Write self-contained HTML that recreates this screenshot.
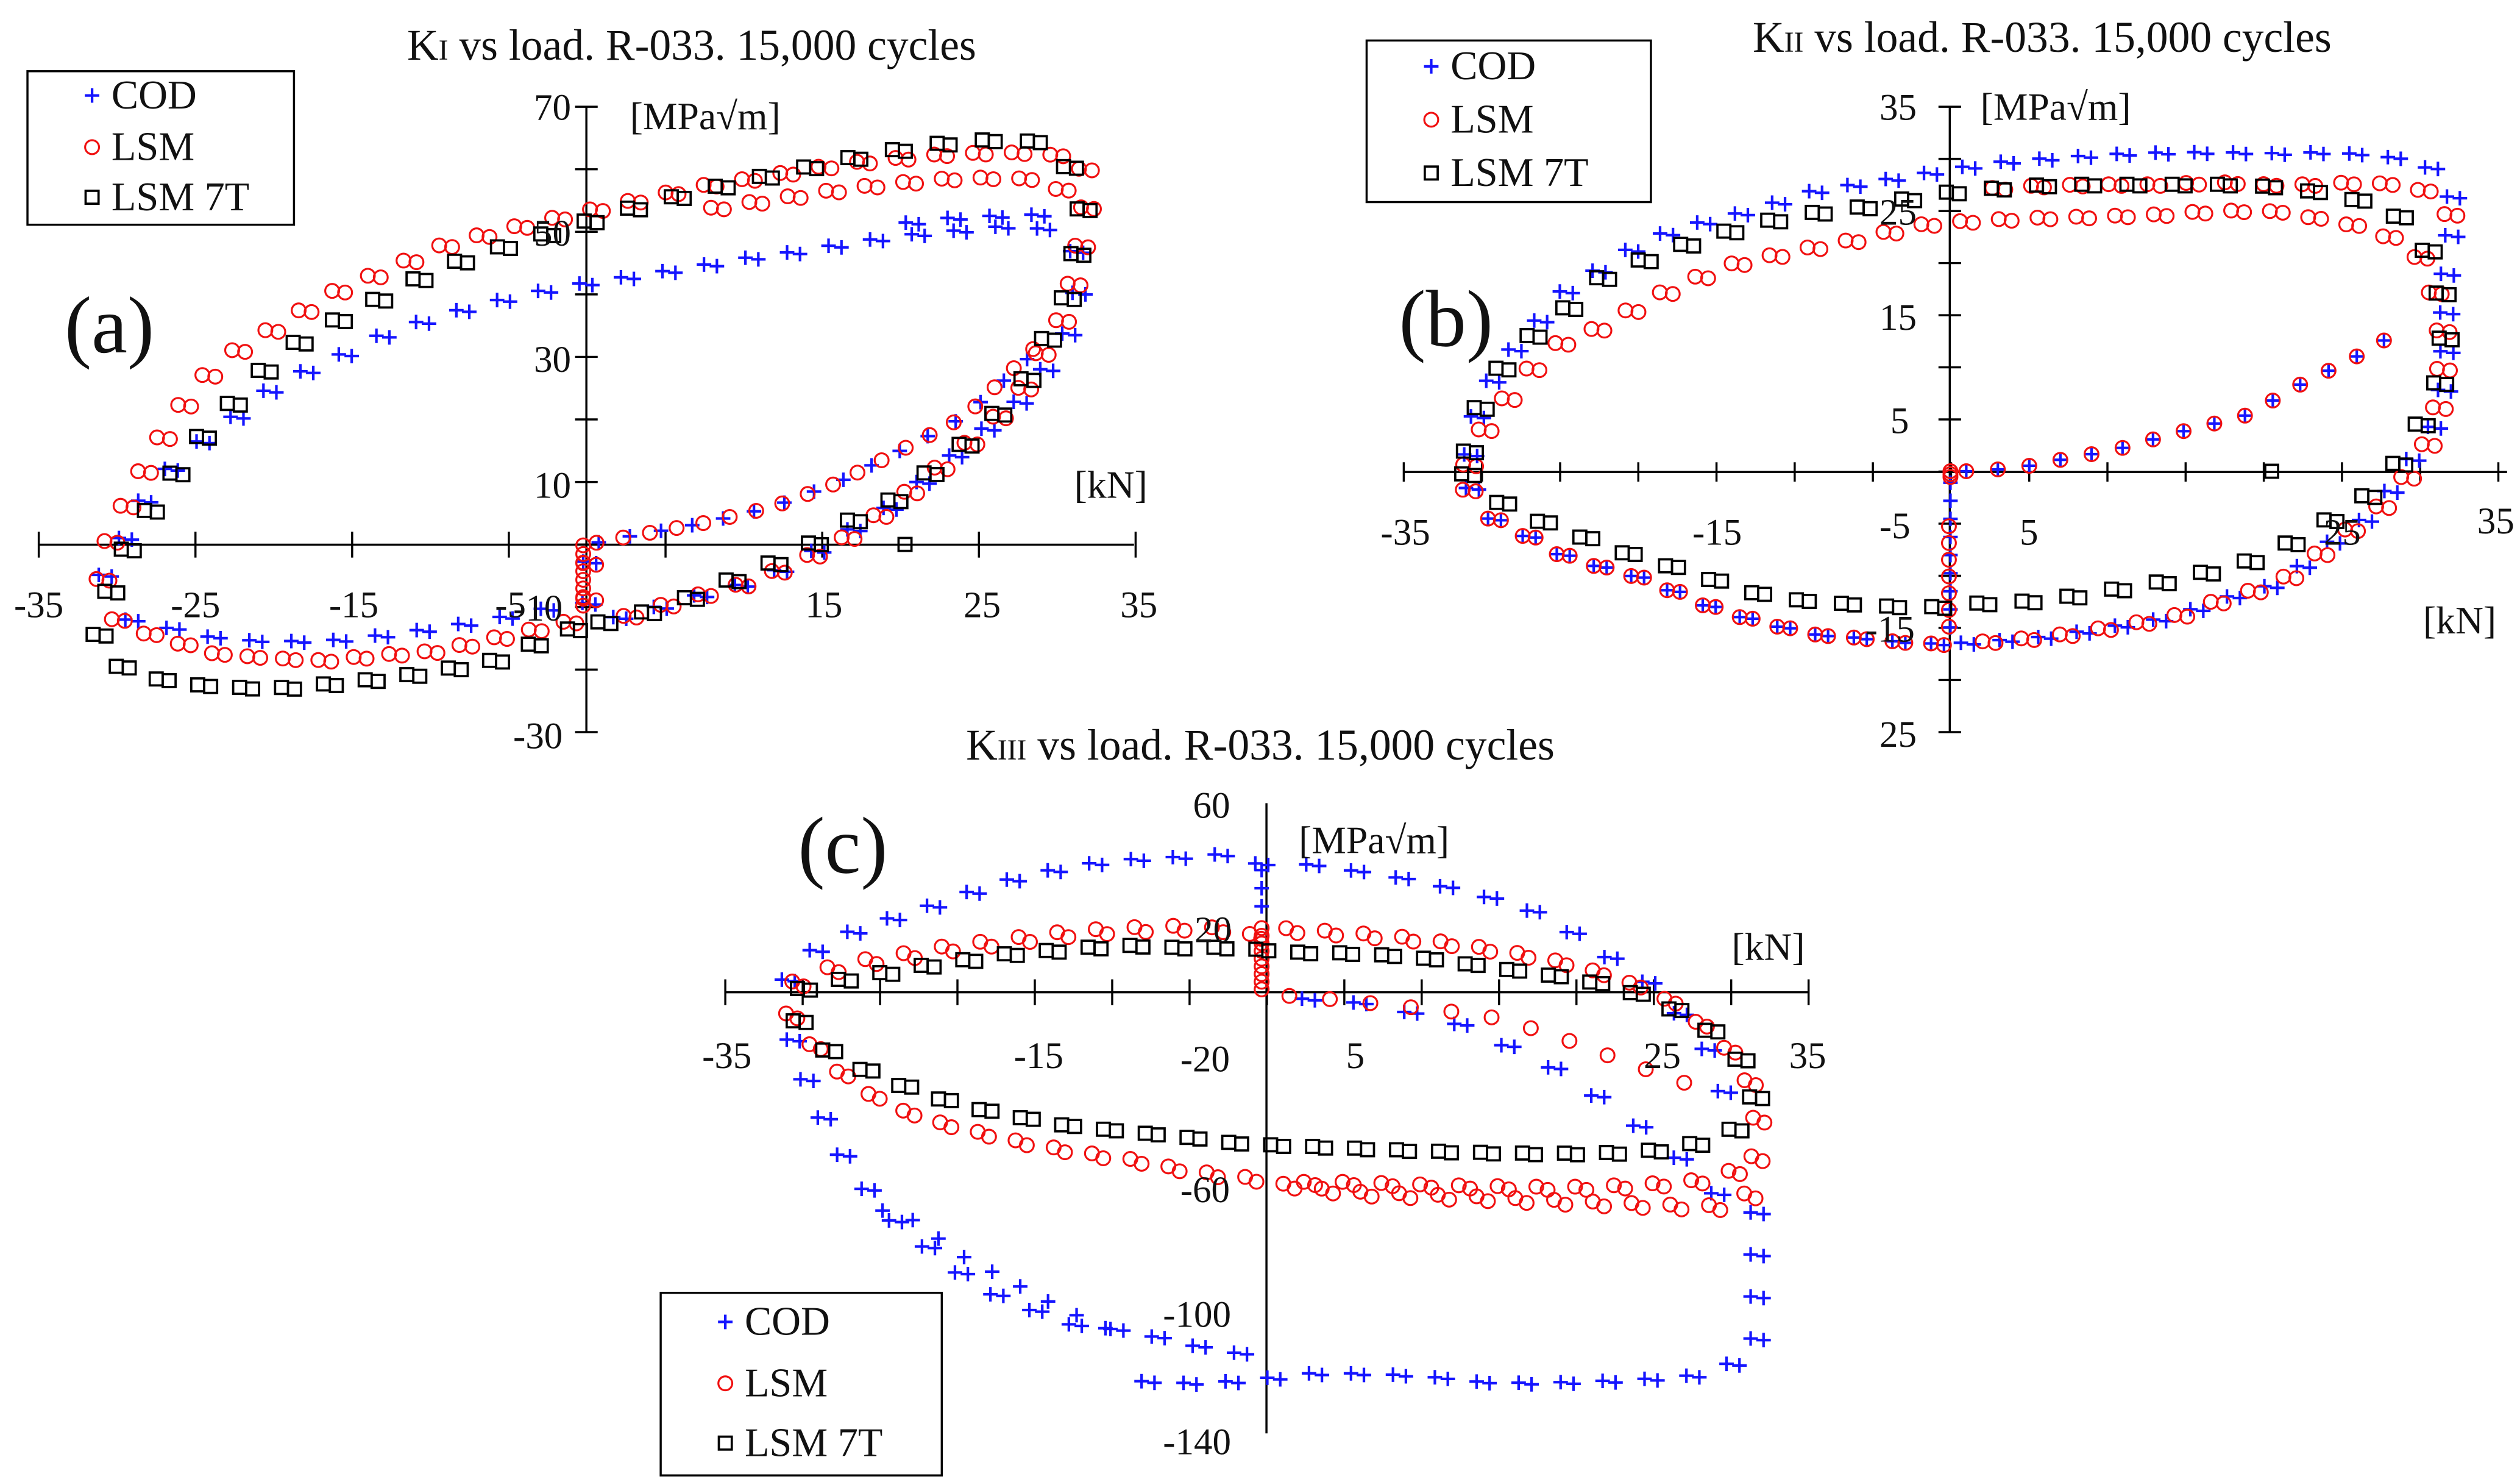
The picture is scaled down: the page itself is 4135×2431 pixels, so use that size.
<!DOCTYPE html>
<html><head><meta charset="utf-8"><style>
html,body{margin:0;padding:0;background:#fff;}
svg{display:block;}
text{font-family:"Liberation Serif",serif;fill:#111;}
</style></head><body>
<svg id="s" width="4135" height="2431" viewBox="0 0 1560 917" xmlns="http://www.w3.org/2000/svg">
<rect width="1560" height="917" fill="#fff"/>
<g stroke="#000" stroke-width="1.3" fill="none" id="axes"></g>
<g id="pts"></g>
<text x="252" y="37" font-size="27">K<tspan font-size="18">I</tspan> vs load. R-033. 15,000 cycles</text>
<text x="1085" y="32" font-size="27">K<tspan font-size="18">II</tspan>  vs load.  R-033. 15,000 cycles</text>
<text x="598" y="470" font-size="27">K<tspan font-size="18">III</tspan>  vs load.  R-033. 15,000 cycles</text>
<text x="40" y="218" font-size="50">(a)</text>
<text x="866" y="214" font-size="50">(b)</text>
<text x="494" y="540" font-size="50">(c)</text>
<text x="390" y="80" font-size="24">[MPa√m]</text>
<text x="665" y="308" font-size="24">[kN]</text>
<text x="1226" y="74" font-size="24">[MPa√m]</text>
<text x="1500" y="392" font-size="24">[kN]</text>
<text x="804" y="528" font-size="24">[MPa√m]</text>
<text x="1072" y="594" font-size="24">[kN]</text>
<g font-size="23" text-anchor="middle">
<text x="342" y="74">70</text><text x="342" y="152">50</text><text x="342" y="230">30</text><text x="342" y="308">10</text><text x="333" y="384">-10</text><text x="333" y="463">-30</text>
<text x="24" y="382">-35</text><text x="121" y="382">-25</text><text x="219" y="382">-15</text><text x="316" y="382">-5</text><text x="510" y="382">15</text><text x="608" y="382">25</text><text x="705" y="382">35</text>
<text x="1175" y="74">35</text><text x="1175" y="139">25</text><text x="1175" y="204">15</text><text x="1176" y="268">5</text><text x="1173" y="333">-5</text><text x="1170" y="397">-15</text><text x="1175" y="462">25</text>
<text x="870" y="337">-35</text><text x="1063" y="337">-15</text><text x="1256" y="337">5</text><text x="1450" y="337">25</text><text x="1545" y="330">35</text>
<text x="750" y="506">60</text><text x="751" y="583">20</text><text x="746" y="663">-20</text><text x="746" y="744">-60</text><text x="741" y="821">-100</text><text x="741" y="900">-140</text>
<text x="450" y="661">-35</text><text x="643" y="661">-15</text><text x="839" y="661">5</text><text x="1029" y="661">25</text><text x="1119" y="661">35</text>
</g>
<g id="leg"></g>
</svg>
<script>
var NS="http://www.w3.org/2000/svg";
var ax=document.getElementById('axes'),P=document.getElementById('pts'),L=document.getElementById('leg');
function el(t,a,p){var e=document.createElementNS(NS,t);for(var k in a)e.setAttribute(k,a[k]);(p||P).appendChild(e);return e;}
function line(x1,y1,x2,y2,p){el('line',{x1:x1,y1:y1,x2:x2,y2:y2},p||ax);}
line(24,337,702,337);line(363,66,363,453);
for(var i=0;i<=7;i++){var x=24+i*97;line(x,329,x,345);}
for(var i=0;i<=10;i++){var y=66+i*38.7;line(356,y,370,y);}
line(869,292,1552,292);line(1207,66,1207,453);
for(var i=0;i<=14;i++){var x=869+i*48.4;line(x,286,x,298);}
for(var i=0;i<=12;i++){var y=66+i*32.25;line(1200,y,1214,y);}
line(449,614,1119,614);line(784,497,784,887);
for(var i=0;i<=14;i++){var x=449+i*47.9;line(x,606,x,622);}
function mk(type,x,y,p){
 p=p||P;
 if(type==0){el('path',{d:'M'+(x-4.5)+' '+y+'h9M'+x+' '+(y-4.5)+'v9',stroke:'#1515ff','stroke-width':1.6,fill:'none'},p);}
 else if(type==1){el('circle',{cx:x,cy:y,r:4.3,stroke:'#f01010','stroke-width':1.2,fill:'none'},p);}
 else {el('rect',{x:x-4,y:y-4,width:8,height:8,stroke:'#000','stroke-width':1.4,fill:'none'},p);}
}
function T(panel,p){
 if(panel=='a')return[p[0]*0.498,p[1]*0.296];
 if(panel=='b')return[830.2+p[0]*0.4657,p[1]*0.296];
 return[396.2+p[0]*0.4693,452.8+p[1]*0.2963];
}
function track(panel,type,arr,step,pair){
 if(pair)step*=2.0;else step*=1.4;
 var pts=[];for(var i=0;i<arr.length;i+=2)pts.push(T(panel,[arr[i],arr[i+1]]));
 var acc=step*0.5;
 for(var i=1;i<pts.length;i++){
  var a=pts[i-1],b=pts[i],dx=b[0]-a[0],dy=b[1]-a[1],d=Math.hypot(dx,dy);
  var t=0;
  while(true){
   if(t+acc>d)break;
   t+=acc;
   var x=a[0]+dx*t/d,y=a[1]+dy*t/d;
   mk(type,x,y);
   if(pair){mk(type,x+pair[0],y+pair[1]);}
   acc=step;
  }
  acc=acc-(d-t);
  if(acc<=0)acc=step;
 }
}
var pr=[8,1];
// ===== Panel A =====
track('a',0,[110,1240,140,1150,180,1020,230,940,280,880,340,800,410,750,470,700,540,660,610,630,690,600,770,580,850,560,920,540,990,525,1060,505,1130,490,1200,480,1260,470,1300,480,1330,520,1335,600,1320,700,1290,780,1260,840,1210,910,1160,980,1100,1060,1040,1120,980,1180,920,1220,850,1250,770,1290,730,1290],13,pr);
track('a',0,[1100,470,1180,455,1270,448,1310,450],13,pr);
track('a',0,[725,1130,725,1260,680,1270,620,1290,550,1310,460,1330,400,1340,330,1340,270,1335,200,1310,140,1290,115,1270],13,pr);
track('a',0,[725,1140,770,1125,870,1095,960,1060,1040,1010,1110,950,1200,870,1290,730],14,null);
track('a',1,[115,1250,130,1130,160,1020,200,900,240,800,290,730,340,680,410,610,480,560,550,510,620,480,700,450,780,420,860,390,940,370,1010,350,1080,335,1180,320,1280,318,1340,330,1345,420,1335,530,1320,650,1290,730,1260,830,1210,910,1160,980,1100,1060,1050,1120,980,1180,920,1220,850,1250,770,1290,730,1290],12,pr);
track('a',1,[860,440,940,420,1020,400,1090,385,1180,372,1260,370,1310,390,1335,440],12,pr);
track('a',1,[725,1140,725,1280,700,1300,620,1330,540,1360,460,1370,400,1380,330,1375,260,1365,200,1335,150,1310,115,1260],11,pr);
track('a',1,[725,1140,770,1125,870,1095,960,1060,1040,1010,1110,950,1200,870,1290,720],12,null);
for(var k=0;k<8;k++)mk(1,T('a',[725,1140+k*18])[0],T('a',[725,1140+k*18])[1]);
track('a',2,[120,1280,155,1130,190,1040,240,920,290,830,340,740,400,680,470,620,540,560,620,515,700,475,780,435,860,400,940,370,1010,345,1080,320,1160,300,1240,290,1280,295,1320,340,1340,420,1335,500,1320,620,1300,690,1270,790,1220,890,1170,960,1110,1040,1050,1090,980,1160,920,1200,850,1250,760,1300,730,1300],14,pr);
track('a',2,[730,1300,680,1330,610,1380,530,1405,460,1420,400,1430,330,1440,280,1435,230,1430,180,1415,140,1390,120,1360,115,1320],13,pr);
mk(2,T('a',[1125,1138])[0],T('a',[1125,1138])[1]);
// ===== Panel B =====
track('b',0,[160,990,170,880,200,770,240,700,290,610,340,560,400,500,460,470,540,440,620,400,700,380,780,360,860,340,940,330,1020,322,1100,318,1170,318,1240,320,1300,318,1360,322,1410,332,1450,355,1470,400,1470,460,1465,530,1460,600,1462,700,1460,800,1450,880,1420,950,1390,1020,1360,1080,1320,1120,1290,1160,1240,1220,1170,1250,1100,1290,1020,1310,940,1330,860,1340,810,1345],12,pr);
track('b',0,[810,1345,760,1345,700,1335,620,1325,540,1295,470,1260,400,1210,340,1185,280,1155,230,1110,190,1080,170,1040,160,990],12,pr);
track('b',0,[810,990,810,1345],8,null);
track('b',0,[810,985,850,985,910,975,960,960,1030,940,1110,905,1200,870,1230,845,1290,790,1320,770,1380,720,1410,680],14,null);
track('b',1,[155,1010,170,930,190,880,210,840,240,780,280,720,330,690,400,630,450,590,520,550,610,520,680,500,760,470,840,460,920,455,1000,452,1080,448,1160,440,1230,440,1290,455,1340,470,1380,490,1420,520,1440,570,1450,640,1460,720,1455,800,1450,870,1440,920,1420,970,1400,1020,1375,1060,1340,1100,1300,1150,1240,1220,1170,1250,1100,1290,1020,1310,940,1330,860,1340,810,1345],12,pr);
track('b',1,[840,395,920,388,1000,385,1080,385,1160,380,1230,385,1290,385,1350,380,1400,385,1440,400,1465,430,1470,480],12,pr);
track('b',1,[810,1345,760,1345,700,1335,620,1325,540,1295,470,1260,400,1210,340,1185,280,1155,230,1110,190,1080,170,1040,155,1010],12,pr);
track('b',1,[810,985,850,985,910,975,960,960,1030,940,1110,905,1200,870,1230,845,1290,790,1320,770,1380,720,1410,680],14,null);
for(var k=0;k<7;k++){var q=T('b',[808,1100+k*35]);mk(1,q[0],q[1]);}
for(var k=0;k<3;k++){var q=T('b',[810,985+k*6]);mk(1,q[0],q[1]);}
track('b',2,[160,990,165,900,180,840,200,780,240,710,290,650,340,580,400,540,470,500,550,465,620,445,700,430,780,405,850,395,940,385,1020,385,1100,385,1170,385,1240,390,1290,400,1340,415,1390,440,1420,480,1440,530,1455,600,1460,700,1455,790,1440,850,1420,910,1390,990,1340,1060,1290,1100,1230,1160,1160,1190,1090,1215,1010,1235,930,1255,850,1260,770,1270,700,1265,610,1255,530,1235,460,1195,390,1165,330,1130,270,1095,220,1065,180,1020,160,990],14,[8,1]);
mk(2,T('b',[1237,985])[0],T('b',[1237,985])[1]);
// ===== Panel C =====
track('c',0,[180,560,190,500,210,470,240,440,270,420,300,400,350,380,410,345,480,310,550,285,620,268,700,262,770,255,800,268,820,280],13,pr);
track('c',0,[820,270,820,380],8,null);
track('c',0,[850,265,870,275,940,290,1020,310,1090,335,1160,365,1230,425,1290,490,1340,540,1370,600,1400,660,1420,740,1430,800],14,pr);
track('c',0,[840,545,880,560,940,565,990,580,1060,600,1130,650,1210,710,1300,810,1380,910,1420,975],16,pr);
track('c',0,[1465,960,1465,1300,1460,1300,1420,1330,1380,1345,1320,1352,1250,1357,1170,1360,1100,1357,1030,1345,950,1340,870,1340,800,1355,720,1360,640,1355],13,pr);
track('c',0,[810,1310,780,1295,720,1280,640,1250,570,1240,500,1200,440,1160,400,1110,360,1060,320,1010,280,930,250,860,230,790,210,720,195,650,185,600],13,pr);
track('c',0,[300,990,360,1020,430,1100,480,1140,550,1200,620,1250],14,null);
track('c',1,[180,545,220,500,270,485,310,470,360,460,410,445,470,435,540,420,620,410,700,405,780,410,820,430,850,410,930,418,1020,430,1090,445,1170,465,1230,485,1290,515,1340,545,1380,590,1420,640,1450,700,1465,760,1470,830,1465,900,1460,960,1440,985,1400,990,1320,985,1240,980,1170,975,1100,970,1020,965,940,960,870,950,800,930,720,915,640,890,570,875,500,855,430,830,370,805,320,775,270,725,240,680,210,630,185,570],12,[7,3]);
track('c',1,[850,940,940,940,1020,945,1100,948,1170,950,1240,950,1320,945,1400,935,1450,910],12,[7,2]);
track('c',1,[830,545,870,555,930,560,980,570,1050,580,1120,595,1200,630,1300,690,1390,740,1420,770],18,null);
for(var k=0;k<9;k++){var q=T('c',[820,410+k*16]);mk(1,q[0],q[1]);}
track('c',2,[185,560,200,540,230,525,270,515,310,505,360,490,410,480,470,465,550,455,630,445,700,450,780,450,820,455,860,460,940,462,1020,470,1090,485,1160,500,1230,515,1290,535,1340,565,1390,605,1430,655,1460,715,1465,780,1450,820,1410,850,1360,870,1300,878,1230,880,1170,880,1100,878,1030,875,950,870,870,865,790,860,710,845,630,833,560,822,480,800,420,780,360,750,310,720,270,690,230,655,200,600,185,570],13,[8,1]);
function legend(x,y,w,h,ys){
 el('rect',{x:x,y:y,width:w,height:h,fill:'#fff',stroke:'#000','stroke-width':1.3},L);
 var names=['COD','LSM','LSM 7T'];
 for(var i=0;i<3;i++){mk(i,x+40,ys[i],L);var t=el('text',{x:x+52,y:ys[i]+8,'font-size':25},L);t.textContent=names[i];}
}
legend(17,44,165,95,[59,91,122]);
legend(846,25,176,100,[41,74,107]);
legend(409,800,174,113,[818,856,893]);
</script>
</body></html>
